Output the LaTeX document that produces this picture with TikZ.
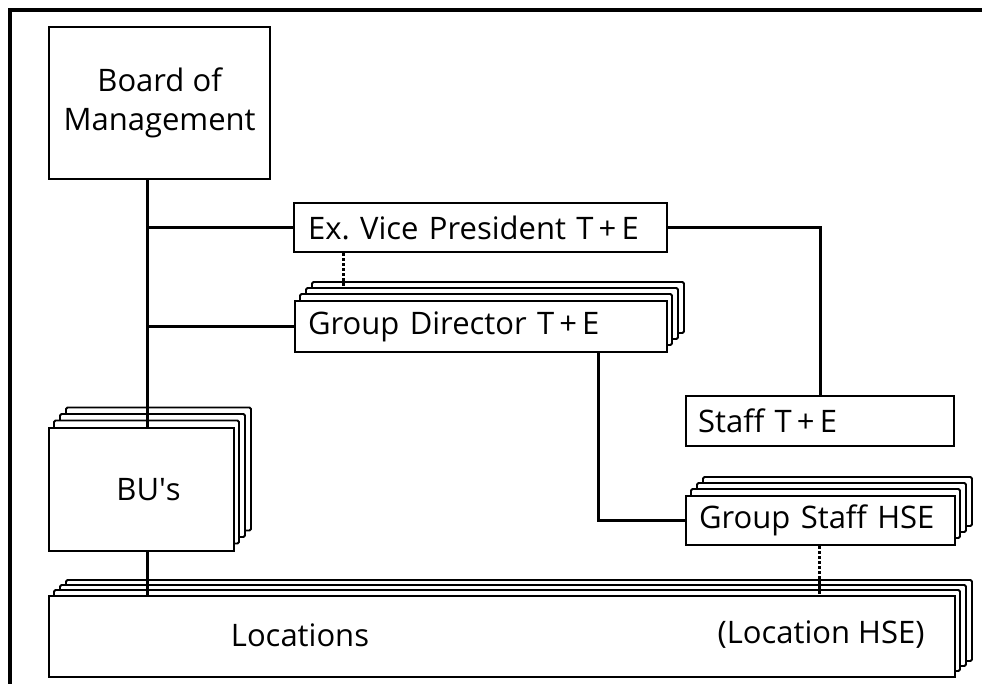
\documentclass[tikz,border=0pt]{standalone}
\usepackage{fontspec}
\setmainfont{Open Sans}
\begin{document}
\begin{tikzpicture}[x=1pt,y=-1pt,
  box/.style={draw, line width=2.2pt, fill=white, inner sep=0pt, anchor=north west},
  sheet/.style={draw, line width=1.9pt, fill=white, rounded corners=1.5pt},
  link/.style={line width=3pt},
  dotlink/.style={line width=3pt, dash pattern=on 3pt off 2pt},
  lbl/.style={font=\fontsize{31}{39}\selectfont},
  frame/.style={line width=3.5pt}]
\useasboundingbox (0,0) rectangle (982,683);
\clip (0,0) rectangle (982,683);
\draw[frame] (10,700) -- (10,10) -- (1000,10);
% named x positions
\coordinate (trunk) at (147,0);
\coordinate (c1) at (820,0);
\coordinate (c2) at (343,0);
\coordinate (c3) at (598,0);
\coordinate (c4) at (819,0);
\coordinate (gdsheet) at (343,288);
% back sheets
\foreach \k in {3,2,1}{
  \draw[sheet] (294+6*\k,300-6*\k) rectangle (666+6*\k,351-6*\k);
  \draw[sheet] (685+6*\k,495-6*\k) rectangle (954+6*\k,544-6*\k);
  \draw[sheet] (48+6*\k,427-6.5*\k) rectangle (233+6*\k,550-6.5*\k);
  \draw[sheet] (48+6*\k,595-5*\k) rectangle (954+6*\k,676-5*\k);
}
% front boxes
\node[box, lbl, minimum width=221, minimum height=152, align=center] (board) at (48,26) {Board of\\Management};
\node[box, lbl, minimum width=373, minimum height=49, text width=345, inner xsep=14, align=left] (exvp) at (293,202) {Ex.\ Vice President T\,+\,E};
\node[box, lbl, minimum width=372, minimum height=51, text width=346, inner xsep=13, align=left] (gd) at (294,300) {Group Director T\,+\,E};
\node[box, lbl, minimum width=268, minimum height=50, text width=244, inner xsep=12, align=left] (staff) at (685,395) {Staff T\,+\,E};
\node[box, lbl, minimum width=269, minimum height=49, text width=243, inner xsep=13, align=left] (gshse) at (685,495) {Group Staff HSE};
\node[box, lbl, minimum width=185, minimum height=123] (bu) at (48,427) {\hspace*{14pt}BU\textquotesingle s};
\node[box, minimum width=906, minimum height=81] (loc) at (48,595) {};
\node[lbl] (loctxt) at (300,635) {Locations};
\node[lbl, anchor=east] (lochse) at (928,635) {(Location HSE)};
% connectors
\draw[link] (trunk |- board.south) -- (trunk |- bu.north);
\draw[link] (trunk |- exvp.west) -- (exvp.west);
\draw[link] (trunk |- gd.west) -- (gd.west);
\draw[link] (exvp.east) -| (c1 |- staff.north);
\draw[dotlink] (c2 |- exvp.south) -- (gdsheet);
\draw[link] (c3 |- gd.south) |- (gshse.west);
\draw[dotlink] (c4 |- gshse.south) -- (c4 |- loc.north);
\draw[link] (trunk |- bu.south) -- (trunk |- loc.north);
\end{tikzpicture}
\end{document}
